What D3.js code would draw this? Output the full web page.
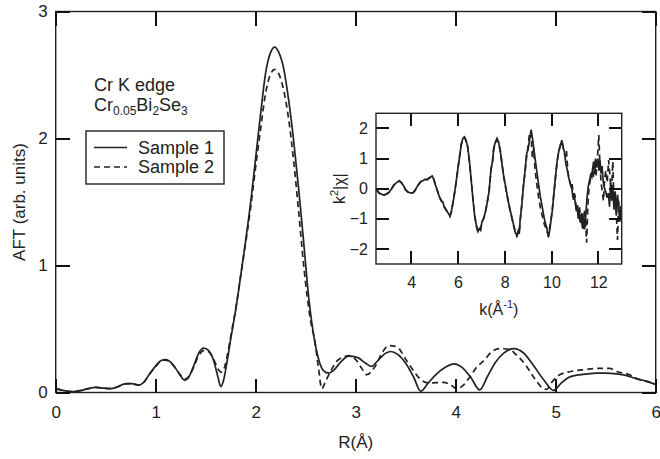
<!DOCTYPE html>
<meta charset="utf-8">
<style>
  body { margin: 0; background: #fff; }
  svg text { font-family: "Liberation Sans", Arial, sans-serif; fill: #222; }
  .curve { fill: none; stroke: #222; stroke-width: 1.7px; }
  .dash { stroke-dasharray: 6,4; }
  .frame { fill: none; stroke: #222; stroke-width: 1.4px; }
</style>
<body>
<svg id="chart" width="660" height="459"></svg>

<script src="https://d3js.org/d3.v7.js"></script>
<script>
  // main panel: Fourier transform magnitude vs R
  const r1 = [0.00, 0.05, 0.10, 0.18, 0.25, 0.32, 0.40, 0.48, 0.55, 0.62, 0.70, 0.76, 0.83, 0.88, 0.94,
    1.00, 1.05, 1.10, 1.15, 1.20, 1.25, 1.29, 1.33, 1.38, 1.43, 1.48, 1.53, 1.58, 1.62, 1.65, 1.68,
    1.71, 1.75, 1.80, 1.85, 1.90, 1.95, 2.00, 2.05, 2.10, 2.15, 2.19, 2.23, 2.28, 2.33, 2.38, 2.43,
    2.48, 2.53, 2.58, 2.63, 2.68, 2.73, 2.78, 2.85, 2.93, 3.02, 3.10, 3.16, 3.22, 3.30, 3.35, 3.42,
    3.50, 3.58, 3.65, 3.73, 3.81, 3.90, 3.98, 4.06, 4.15, 4.24, 4.32, 4.40, 4.48, 4.58, 4.68, 4.78,
    4.88, 4.98, 5.05, 5.12, 5.20, 5.30, 5.41, 5.50, 5.61, 5.70, 5.81, 5.90, 6.00];
  const sample1 = [0.025, 0.02, 0.012, 0.008, 0.015, 0.03, 0.04, 0.035, 0.03, 0.045, 0.07, 0.07, 0.058, 0.08, 0.147,
    0.21, 0.25, 0.26, 0.24, 0.19, 0.13, 0.095, 0.12, 0.21, 0.31, 0.35, 0.33, 0.25, 0.13, 0.047, 0.10,
    0.226, 0.42, 0.65, 0.92, 1.20, 1.50, 1.85, 2.20, 2.52, 2.68, 2.72, 2.68, 2.55, 2.30, 1.98, 1.60,
    1.18, 0.75, 0.45, 0.26, 0.17, 0.152, 0.175, 0.24, 0.286, 0.275, 0.23, 0.205, 0.25, 0.31, 0.323, 0.30,
    0.23, 0.12, 0.01, 0.08, 0.147, 0.20, 0.226, 0.20, 0.12, 0.02, 0.13, 0.24, 0.31, 0.345, 0.31, 0.21,
    0.10, 0.016, 0.07, 0.115, 0.135, 0.145, 0.152, 0.152, 0.146, 0.135, 0.107, 0.09, 0.063];

  const r2 = [0.00, 0.05, 0.10, 0.18, 0.25, 0.32, 0.40, 0.48, 0.55, 0.62, 0.70, 0.76, 0.83, 0.88, 0.94,
    1.00, 1.05, 1.10, 1.15, 1.20, 1.25, 1.29, 1.33, 1.38, 1.43, 1.48, 1.53, 1.58, 1.62, 1.65, 1.68,
    1.71, 1.75, 1.80, 1.85, 1.90, 1.95, 2.00, 2.05, 2.10, 2.15, 2.19, 2.23, 2.28, 2.33, 2.38, 2.43,
    2.48, 2.55, 2.59, 2.63, 2.66, 2.70, 2.75, 2.83, 2.94, 3.01, 3.06, 3.11, 3.19, 3.27, 3.33, 3.41,
    3.51, 3.58, 3.64, 3.73, 3.88, 3.95, 4.01, 4.08, 4.14, 4.21, 4.28, 4.36, 4.44, 4.54, 4.60, 4.69,
    4.79, 4.86, 4.91, 4.96, 5.04, 5.15, 5.28, 5.44, 5.54, 5.61, 5.74, 5.81, 5.90, 6.00];
  const sample2 = [0.03, 0.022, 0.012, 0.008, 0.015, 0.028, 0.04, 0.035, 0.03, 0.045, 0.068, 0.07, 0.058, 0.08, 0.145,
    0.205, 0.245, 0.255, 0.235, 0.19, 0.135, 0.105, 0.125, 0.20, 0.29, 0.33, 0.32, 0.26, 0.19, 0.16, 0.18,
    0.27, 0.44, 0.66, 0.92, 1.18, 1.46, 1.78, 2.08, 2.36, 2.51, 2.545, 2.51, 2.38, 2.15, 1.82, 1.42,
    1.00, 0.56, 0.41, 0.18, 0.03, 0.09, 0.17, 0.26, 0.29, 0.25, 0.19, 0.14, 0.20, 0.32, 0.37, 0.36,
    0.25, 0.17, 0.11, 0.075, 0.08, 0.06, 0.03, 0.06, 0.12, 0.20, 0.25, 0.32, 0.345, 0.34, 0.30, 0.226,
    0.11, 0.04, 0.025, 0.08, 0.14, 0.165, 0.18, 0.19, 0.19, 0.165, 0.14, 0.11, 0.09, 0.072];

  // inset: k^2 weighted EXAFS
  const k1 = [2.50, 2.65, 2.83, 2.95, 3.05, 3.15, 3.26, 3.38, 3.50, 3.60, 3.68, 3.76, 3.88, 4.01, 4.10, 4.18,
    4.28, 4.40, 4.52, 4.60, 4.68, 4.78, 4.90, 4.97, 5.04, 5.12, 5.20, 5.28, 5.36, 5.42, 5.50, 5.56,
    5.62, 5.66, 5.72, 5.78, 5.84, 5.92, 6.01, 6.08, 6.15, 6.22, 6.28, 6.34, 6.42, 6.50, 6.58, 6.65,
    6.72, 6.80, 6.86, 6.92, 6.97, 7.03, 7.10, 7.18, 7.25, 7.33, 7.42, 7.48, 7.53, 7.60, 7.67, 7.74,
    7.82, 7.88, 7.95, 8.02, 8.09, 8.16, 8.23, 8.30, 8.38, 8.45, 8.52, 8.58, 8.62, 8.66, 8.73, 8.80,
    8.87, 8.94, 9.00, 9.05, 9.13, 9.20, 9.27, 9.35, 9.44, 9.52, 9.58, 9.65, 9.72, 9.80, 9.87, 9.93,
    10.04, 10.10, 10.17, 10.23, 10.30, 10.37, 10.44, 10.50, 10.56, 10.61, 10.68, 10.74, 10.80, 10.86, 10.92, 10.97,
    11.01, 11.06, 11.10, 11.14, 11.18, 11.22, 11.27, 11.32, 11.37, 11.41, 11.46, 11.52, 11.57, 11.62, 11.67, 11.72,
    11.75, 11.80, 11.84, 11.88, 11.93, 11.98, 12.03, 12.07, 12.12, 12.16, 12.21, 12.27, 12.32, 12.37, 12.43, 12.48,
    12.53, 12.58, 12.62, 12.67, 12.72, 12.77, 12.82, 12.87, 12.92, 12.97];
  const chi1 = [-0.02, -0.15, -0.21, -0.18, -0.13, -0.02, 0.12, 0.20, 0.265, 0.18, 0.10, -0.04, -0.12, -0.15, -0.13, -0.04,
    0.10, 0.23, 0.27, 0.31, 0.29, 0.36, 0.42, 0.30, 0.12, -0.05, -0.25, -0.40, -0.45, -0.62, -0.72, -0.78,
    -0.85, -0.92, -0.75, -0.50, -0.25, 0.20, 0.73, 1.10, 1.50, 1.68, 1.72, 1.62, 1.39, 0.85, 0.18, -0.40,
    -0.93, -1.25, -1.42, -1.32, -1.38, -1.09, -1.00, -0.75, -0.48, -0.10, 0.68, 0.90, 1.34, 1.55, 1.67, 1.55,
    1.20, 0.84, 0.45, 0.15, -0.15, -0.45, -0.70, -0.93, -1.20, -1.45, -1.55, -1.40, -1.50, -1.04, -0.55, 0.07,
    0.60, 1.17, 1.30, 1.55, 1.95, 1.60, 1.17, 0.70, 0.18, -0.25, -0.50, -0.81, -1.10, -1.30, -1.62, -1.35,
    -0.70, -0.20, 0.40, 0.84, 1.20, 1.40, 1.61, 1.35, 1.20, 0.84, 0.60, 0.35, 0.18, 0.05, -0.30, -0.15,
    -0.45, -0.75, -0.55, -1.00, -0.70, -1.10, -0.85, -1.30, -0.95, -1.35, -0.93, -0.30, 0.07, 0.25, 0.45, 0.38,
    0.62, 0.90, 0.55, 1.00, 0.70, 1.00, 0.60, 0.95, 0.50, 0.75, 0.23, 0.00, -0.10, -0.30, -0.15, -0.60,
    0.20, -0.40, 0.05, -0.70, -0.10, -0.90, -0.20, -0.60, -1.10, -0.60];

  const k2 = [2.50, 2.65, 2.83, 2.95, 3.05, 3.15, 3.26, 3.38, 3.50, 3.60, 3.68, 3.76, 3.88, 4.01, 4.10, 4.18,
    4.28, 4.40, 4.52, 4.60, 4.68, 4.78, 4.90, 4.97, 5.04, 5.12, 5.20, 5.28, 5.36, 5.42, 5.50, 5.56,
    5.62, 5.66, 5.72, 5.78, 5.84, 5.92, 6.01, 6.08, 6.15, 6.22, 6.28, 6.34, 6.42, 6.50, 6.58, 6.65,
    6.72, 6.80, 6.86, 6.92, 6.97, 7.03, 7.10, 7.18, 7.25, 7.33, 7.42, 7.48, 7.53, 7.60, 7.67, 7.74,
    7.82, 7.88, 7.95, 8.02, 8.09, 8.16, 8.23, 8.30, 8.38, 8.45, 8.52, 8.58, 8.62, 8.66, 8.73, 8.80,
    8.87, 8.94, 9.00, 9.06, 9.12, 9.18, 9.24, 9.30, 9.38, 9.46, 9.54, 9.62, 9.70, 9.78, 9.86, 9.93,
    10.02, 10.10, 10.17, 10.24, 10.31, 10.38, 10.45, 10.52, 10.58, 10.64, 10.70, 10.76, 10.82, 10.88, 10.94, 11.00,
    11.05, 11.10, 11.15, 11.20, 11.25, 11.30, 11.35, 11.40, 11.45, 11.50, 11.55, 11.60, 11.66, 11.72, 11.78, 11.84,
    11.90, 11.96, 12.02, 12.07, 12.12, 12.17, 12.22, 12.27, 12.32, 12.38, 12.44, 12.50, 12.56, 12.62, 12.67, 12.72,
    12.77, 12.82, 12.87, 12.92, 12.97];
  const chi2 = [-0.03, -0.16, -0.22, -0.18, -0.12, -0.03, 0.11, 0.21, 0.25, 0.19, 0.09, -0.03, -0.13, -0.16, -0.12, -0.05,
    0.09, 0.22, 0.28, 0.30, 0.30, 0.35, 0.40, 0.32, 0.13, -0.06, -0.24, -0.38, -0.47, -0.60, -0.70, -0.80,
    -0.86, -0.90, -0.78, -0.52, -0.22, 0.18, 0.70, 1.12, 1.48, 1.66, 1.70, 1.60, 1.36, 0.88, 0.20, -0.38,
    -0.90, -1.28, -1.45, -1.35, -1.34, -1.12, -0.98, -0.78, -0.45, -0.12, 0.65, 0.92, 1.30, 1.52, 1.62, 1.52,
    1.22, 0.86, 0.42, 0.12, -0.18, -0.48, -0.72, -0.95, -1.22, -1.42, -1.58, -1.45, -1.48, -1.08, -0.52, 0.10,
    0.55, 1.10, 1.40, 1.85, 1.90, 1.05, 1.35, 0.60, 0.10, -0.35, -0.70, -0.95, -1.20, -1.35, -1.55, -1.25,
    -0.80, -0.15, 0.35, 0.90, 1.25, 1.45, 1.55, 1.30, 1.05, 1.25, 0.55, 0.30, 0.10, 0.20, -0.40, -0.20,
    -0.60, -0.50, -0.90, -0.60, -1.20, -0.80, -1.40, -0.70, -1.00, -1.79, -0.60, 0.00, 0.30, 0.55, 0.35, 0.70,
    0.40, 0.95, 1.78, 0.80, 0.20, -0.10, -0.40, 0.30, 0.60, 0.20, 0.95, 0.40, -0.20, 0.90, -0.50, -0.10,
    -0.80, -1.70, -0.40, -0.90, -0.50];

  const mainXTicks = [0, 1, 2, 3, 4, 5, 6];
  const mainYTicks = [0, 1, 2, 3];
  const insetXTicks = [4, 6, 8, 10, 12];
  const insetYTicks = [-2, -1, 0, 1, 2];

  const svg = d3.select("#chart");

  const x = d3.scaleLinear().domain([0, 6]).range([55.7, 655.7]);
  const y = d3.scaleLinear().domain([0, 3]).range([392.5, 11.5]);

  const xi = d3.scaleLinear().domain([2.5, 13]).range([376, 621.7]);
  const yi = d3.scaleLinear().domain([-2.5, 2.5]).range([264, 113.3]);

  function styleAxis(g, size) {
    g.select(".domain").remove();
    g.selectAll(".tick line").remove();
    g.selectAll("text").attr("font-size", size).attr("font-family", "Liberation Sans, Arial, sans-serif").attr("fill", "#222");
  }

  // inward tick marks on all four sides of a panel, one rect per mark,
  // snapped to whole pixels so they stay crisp
  function tickMarks(g, xs, ys, xTicks, yTicks, len) {
    const [x0, x1] = xs.range();
    const [y0, y1] = ys.range();
    const w = 2;
    const marks = [];
    xTicks.forEach(t => {
      const px = Math.round(xs(t) - w / 2);
      marks.push({x: px, y: Math.round(y0 - len), w: w, h: len});
      marks.push({x: px, y: Math.round(y1), w: w, h: len});
    });
    yTicks.forEach(t => {
      const py = Math.round(ys(t) - w / 2);
      marks.push({x: Math.round(x0), y: py, w: len, h: w});
      marks.push({x: Math.round(x1 - len), y: py, w: len, h: w});
    });
    g.append("g").selectAll("rect")
      .data(marks)
      .join("rect")
      .attr("x", d => d.x).attr("y", d => d.y)
      .attr("width", d => d.w).attr("height", d => d.h)
      .attr("fill", "#111");
  }

  // main axes labels
  svg.append("g").attr("transform", `translate(0,${y(0)})`)
    .call(d3.axisBottom(x).tickValues(mainXTicks).tickSize(0).tickPadding(13).tickFormat(d3.format("d")))
    .call(g => styleAxis(g, 17));
  svg.append("g").attr("transform", `translate(${x(0)},0)`)
    .call(d3.axisLeft(y).tickValues(mainYTicks).tickSize(0).tickPadding(8).tickFormat(d3.format("d")))
    .call(g => styleAxis(g, 17));

  svg.append("rect").attr("class", "frame")
    .attr("x", x(0)).attr("y", y(3))
    .attr("width", x(6) - x(0)).attr("height", y(0) - y(3));

  const line = d3.line()
    .x(d => x(d[0]))
    .y(d => y(d[1]))
    .curve(d3.curveMonotoneX);

  svg.append("path").attr("class", "curve")
    .attr("d", line(d3.zip(r1, sample1)));
  svg.append("path").attr("class", "curve dash")
    .attr("d", line(d3.zip(r2, sample2)));

  tickMarks(svg, x, y, mainXTicks, mainYTicks, 14);

  // axis titles
  svg.append("text")
    .attr("transform", `translate(25,${(y(0) + y(3)) / 2}) rotate(-90)`)
    .attr("text-anchor", "middle").attr("font-size", 17)
    .text("AFT (arb. units)");
  svg.append("text")
    .attr("x", (x(0) + x(6)) / 2).attr("y", 448)
    .attr("text-anchor", "middle").attr("font-size", 17)
    .text("R(Å)");

  // annotation
  svg.append("text").attr("x", 94).attr("y", 91).attr("font-size", 18).text("Cr K edge");
  const formula = svg.append("text").attr("x", 94).attr("y", 111).attr("font-size", 18);
  formula.append("tspan").text("Cr");
  formula.append("tspan").attr("font-size", 12).attr("dy", 4).text("0.05");
  formula.append("tspan").attr("dy", -4).text("Bi");
  formula.append("tspan").attr("font-size", 12).attr("dy", 4).text("2");
  formula.append("tspan").attr("dy", -4).text("Se");
  formula.append("tspan").attr("font-size", 12).attr("dy", 4).text("3");

  // legend
  const legend = svg.append("g");
  legend.append("rect").attr("class", "frame").attr("stroke-width", 1.3)
    .attr("x", 86).attr("y", 131).attr("width", 138).attr("height", 53);
  const legendItems = ["Sample 1", "Sample 2"];
  legendItems.forEach((name, i) => {
    const ly = 147.5 + i * 19.5;
    legend.append("line").attr("class", i ? "curve dash" : "curve")
      .attr("x1", 94).attr("x2", 127).attr("y1", ly).attr("y2", ly);
    legend.append("text").attr("x", 138).attr("y", ly + 6).attr("font-size", 18).text(name);
  });

  // inset panel
  const inset = svg.append("g");
  inset.append("rect").attr("fill", "#fff")
    .attr("x", xi(2.5)).attr("y", yi(2.5))
    .attr("width", xi(13) - xi(2.5)).attr("height", yi(-2.5) - yi(2.5));

  inset.append("g").attr("transform", `translate(0,${yi(-2.5)})`)
    .call(d3.axisBottom(xi).tickValues(insetXTicks).tickSize(0).tickPadding(13).tickFormat(d3.format("d")))
    .call(g => styleAxis(g, 16));
  inset.append("g").attr("transform", `translate(${xi(2.5)},0)`)
    .call(d3.axisLeft(yi).tickValues(insetYTicks).tickSize(0).tickPadding(8).tickFormat(d3.format("d")))
    .call(g => styleAxis(g, 16));

  svg.append("defs").append("clipPath").attr("id", "insetClip")
    .append("rect")
    .attr("x", xi(2.5)).attr("y", yi(2.5))
    .attr("width", xi(13) - xi(2.5)).attr("height", yi(-2.5) - yi(2.5));

  const lineI = d3.line()
    .x(d => xi(d[0]))
    .y(d => yi(d[1]));

  const curves = inset.append("g").attr("clip-path", "url(#insetClip)");
  curves.append("path").attr("class", "curve dash").attr("stroke-width", 1.6)
    .attr("d", lineI(d3.zip(k2, chi2)));
  curves.append("path").attr("class", "curve").attr("stroke-width", 1.8)
    .attr("d", lineI(d3.zip(k1, chi1)));

  tickMarks(inset, xi, yi, insetXTicks, insetYTicks, 13);

  inset.append("rect").attr("class", "frame")
    .attr("x", xi(2.5)).attr("y", yi(2.5))
    .attr("width", xi(13) - xi(2.5)).attr("height", yi(-2.5) - yi(2.5));

  const kLabel = inset.append("text")
    .attr("x", (xi(2.5) + xi(13)) / 2).attr("y", 315)
    .attr("text-anchor", "middle").attr("font-size", 16);
  kLabel.append("tspan").text("k(Å");
  kLabel.append("tspan").attr("font-size", 11).attr("dy", -7).text("-1");
  kLabel.append("tspan").attr("dy", 7).text(")");

  const chiLabel = inset.append("text")
    .attr("transform", `translate(345,${(yi(2.5) + yi(-2.5)) / 2}) rotate(-90)`)
    .attr("text-anchor", "middle").attr("font-size", 16);
  chiLabel.append("tspan").text("k");
  chiLabel.append("tspan").attr("font-size", 11).attr("dy", -7).text("2");
  chiLabel.append("tspan").attr("dy", 7).text("|χ|");
</script>
</body>
</html>
